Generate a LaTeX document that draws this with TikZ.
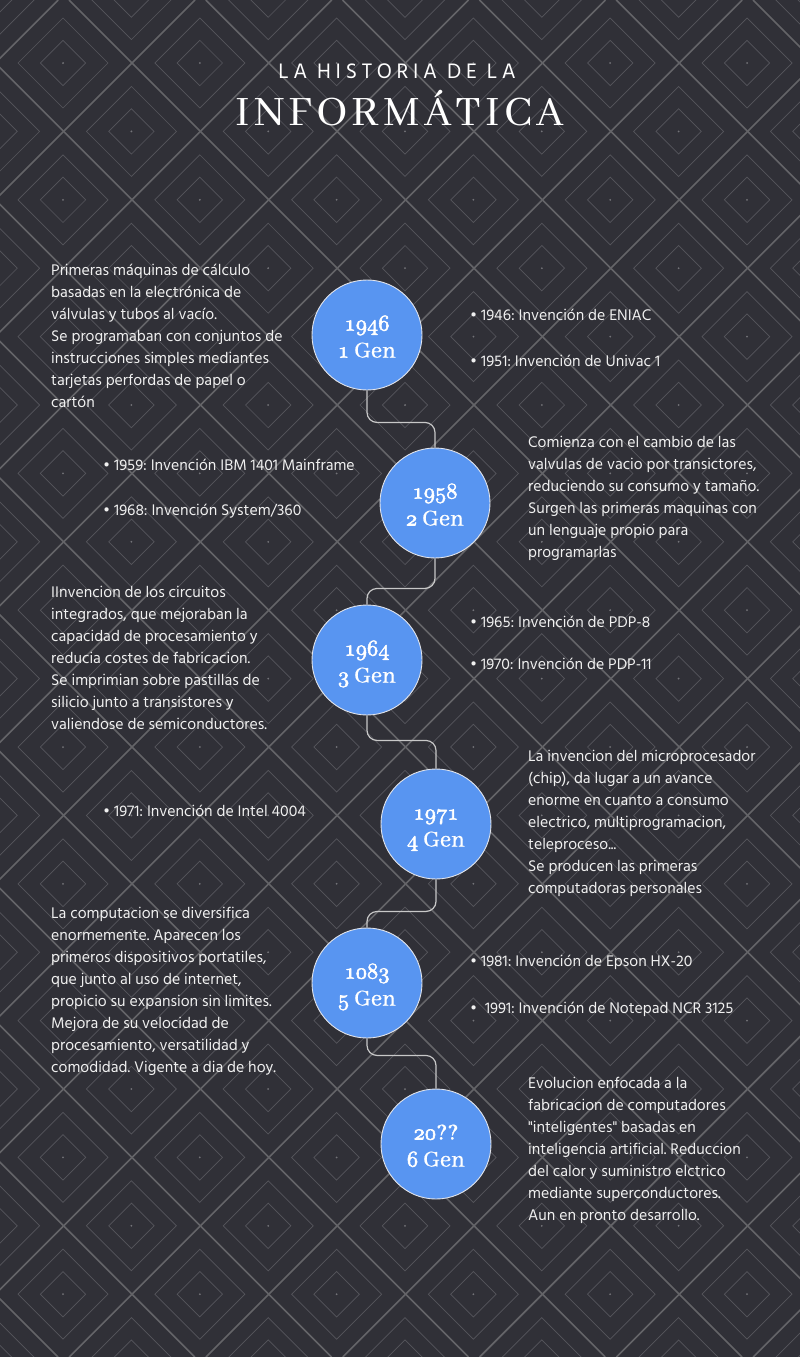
\documentclass[tikz,border=0pt]{standalone}
\usepackage{fontspec}
\DeclareFontShape{OML}{cmm}{m}{it}{<-> cmmi10}{}
\newfontfamily\hindfont{Hind Madurai}
\newfontfamily\headfont[LetterSpace=22]{Hind Madurai}
\newfontfamily\genfont[FakeBold=0.6]{Abhaya Libre}
\newfontfamily\bigfont[LetterSpace=9]{Abhaya Libre}
\newcommand{\yr}[1]{{\fontsize{22.5}{27}\selectfont\special{pdf:literal direct 1 1 1 RG 0.55 w 2 Tr}$\mathnormal{#1}$\special{pdf:literal direct 0 Tr}}}
\newcommand{\topline}{\rule{0pt}{24pt}}
\newcommand{\botline}{\rule[-6pt]{0pt}{6pt}}
\definecolor{bgdark}{RGB}{48,48,55}
\definecolor{latticegray}{RGB}{100,100,104}
\definecolor{ringgray}{RGB}{86,86,92}
\definecolor{dotgray}{RGB}{115,115,120}
\definecolor{genblue}{RGB}{88,149,241}
\definecolor{rimwhite}{RGB}{225,228,235}
\definecolor{linkgray}{RGB}{200,200,200}
\definecolor{textwhite}{RGB}{240,240,240}

\begin{document}
\begin{tikzpicture}
    [x=1pt,y=-1pt,
    lattice line/.style={draw=latticegray, line width=1.6pt},
    ring line/.style={draw=ringgray, line width=0.7pt},
    gen circle/.style={circle, minimum size=110pt, inner sep=0pt, fill=genblue, draw=rimwhite, line width=0.9pt, text=white, align=center, font=\genfont\fontsize{25}{27}\selectfont},
    link/.style={draw=linkgray, line width=1.2pt, rounded corners=10pt},
    body text/.style={anchor=north west, inner sep=0pt, align=left, text=textwhite, font=\hindfont\fontsize{15.8}{22}\selectfont\frenchspacing},
    ]

    \useasboundingbox (0,0) rectangle (800,1357);

    %background
    \fill[bgdark] (0,0) rectangle (800,1357);
    \begin{scope}
    \clip (0,0) rectangle (800,1357);
    \foreach \k in {-1,...,15}
        \draw[lattice line] ({195+136.8*\k},0) -- ({195+136.8*\k-1357},1357);
    \foreach \k in {-11,...,6}
        \draw[lattice line] ({69+136.8*\k},0) -- ({69+136.8*\k+1357},1357);
    \foreach \i in {-1,...,6}
    \foreach \j in {-1,...,10}
    \foreach \o in {0,68.4} {
        \pgfmathsetmacro{\cx}{63+136.8*\i+\o}
        \pgfmathsetmacro{\cy}{63+136.8*\j+\o}
        \draw[ring line] (\cx,\cy) +(-45,0) -- +(0,-45) -- +(45,0) -- +(0,45) -- cycle;
        \draw[ring line] (\cx,\cy) +(-22.7,0) -- +(0,-22.7) -- +(22.7,0) -- +(0,22.7) -- cycle;
        \fill[dotgray] (\cx,\cy) circle (1pt);
    }
    \end{scope}

    %title
    \node[anchor=base, text=white, font=\headfont\fontsize{21.5}{26}\selectfont] (t1) at (397,78) {LA HISTORIA DE LA};
    \node[anchor=base, text=white, font=\bigfont\fontsize{46}{50}\selectfont] (t2) at (400,125) {INFORMÁTICA};

    %generations
    \node[gen circle] (g1) at (367,335) {\topline\yr{1946}\\\yr{1} Gen\botline};
    \node[gen circle] (g2) at (435,503) {\topline\yr{1958}\\\yr{2} Gen\botline};
    \node[gen circle] (g3) at (367,660) {\topline\yr{1964}\\\yr{3} Gen\botline};
    \node[gen circle] (g4) at (436,824) {\topline\yr{1971}\\\yr{4} Gen\botline};
    \node[gen circle] (g5) at (367,983) {\topline\yr{1083}\\\yr{5} Gen\botline};
    \node[gen circle] (g6) at (436,1144) {\topline\yr{20}??\\\yr{6} Gen\botline};

    \draw[link] (g1.south) -- ++(0,32) -| (g2.north);
    \draw[link] (g2.south) -- ++(0,30) -| (g3.north);
    \draw[link] (g3.south) -- ++(0,25) -| (g4.north);
    \draw[link] (g4.south) -- ++(0,32) -| (g5.north);
    \draw[link] (g5.south) -- ++(0,17) -| (g6.north);

    %texts
    \node[body text] (d1) at (51,259.6) {\strut Primeras máquinas de cálculo\\basadas en la electrónica de\\válvulas y tubos al vacío.\\Se programaban con conjuntos de\\instrucciones simples mediantes\\tarjetas perfordas de papel o\\cartón};
    \node[body text] (b1a) at (470,304.6) {\strut • 1946: Invención de ENIAC};
    \node[body text] (b1b) at (470,350.6) {\strut • 1951: Invención de Univac 1};

    \node[body text] (d2) at (528,431.6) {\strut Comienza con el cambio de las\\valvulas de vacio por transictores,\\reduciendo su consumo y tamaño.\\Surgen las primeras maquinas con\\un lenguaje propio para\\programarlas};
    \node[body text] (b2a) at (103,454.6) {\strut • 1959: Invención IBM 1401 Mainframe};
    \node[body text] (b2b) at (103,499.6) {\strut • 1968: Invención System/360};

    \node[body text] (d3) at (51,581.6) {\strut IInvencion de los circuitos\\integrados, que mejoraban la\\capacidad de procesamiento y\\reducia costes de fabricacion.\\Se imprimian sobre pastillas de\\silicio junto a transistores y\\valiendose de semiconductores.};
    \node[body text] (b3a) at (470,611.6) {\strut • 1965: Invención de PDP-8};
    \node[body text] (b3b) at (470,653.6) {\strut • 1970: Invención de PDP-11};

    \node[body text] (d4) at (528,745.6) {\strut La invencion del microprocesador\\(chip), da lugar a un avance\\enorme en cuanto a consumo\\electrico, multiprogramacion,\\teleproceso...\\Se producen las primeras\\computadoras personales};
    \node[body text] (b4a) at (103,800.6) {\strut • 1971: Invención de Intel 4004};

    \node[body text] (d5) at (51,902.6) {\strut La computacion se diversifica\\enormemente. Aparecen los\\primeros dispositivos portatiles,\\que junto al uso de internet,\\propicio su expansion sin limites.\\Mejora de su velocidad de\\procesamiento, versatilidad y\\comodidad. Vigente a dia de hoy.};
    \node[body text] (b5a) at (470,950.6) {\strut • 1981: Invención de Epson HX-20};
    \node[body text] (b5b) at (470,997.6) {\strut • \ 1991: Invención de Notepad NCR 3125};

    \node[body text] (d6) at (528,1072.6) {\strut Evolucion enfocada a la\\fabricacion de computadores\\"inteligentes" basadas en\\inteligencia artificial. Reduccion\\del calor y suministro elctrico\\mediante superconductores.\\Aun en pronto desarrollo.};

    \end{tikzpicture}
\end{document}
